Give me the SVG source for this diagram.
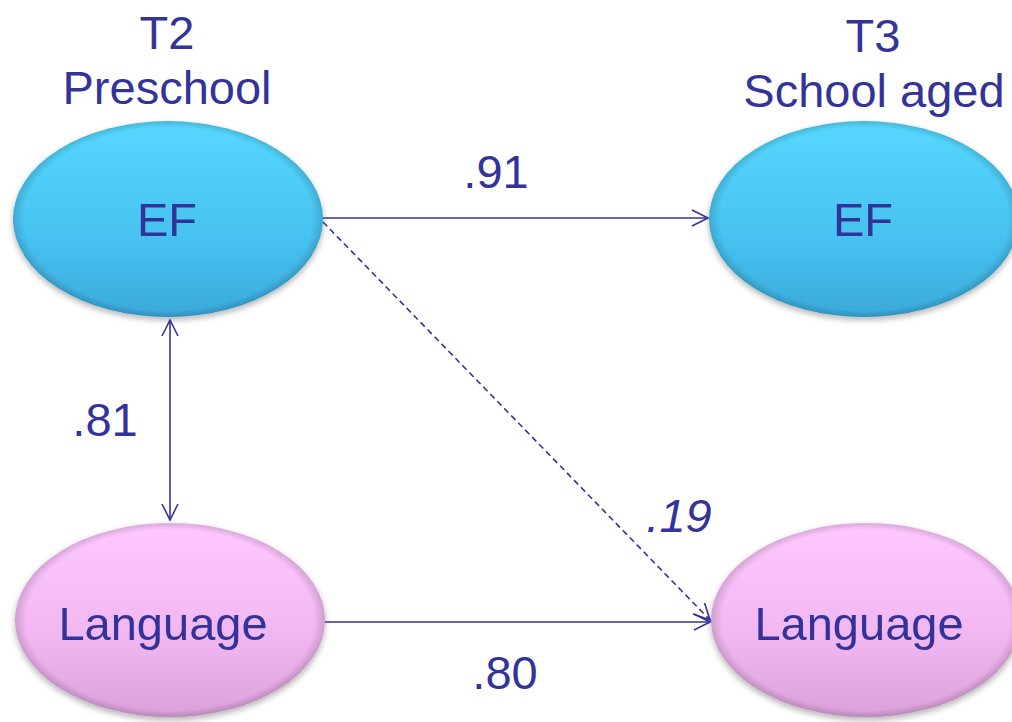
<svg xmlns="http://www.w3.org/2000/svg" width="1012" height="722" viewBox="0 0 1012 722">
  <style>
    .lbl { font-family: "Liberation Sans", Arial, sans-serif; font-size: 47px; fill: #333399; text-anchor: middle; }
    .conn { stroke: #333399; stroke-width: 1.6; fill: none; }
    .dash { stroke-dasharray: 6 4; }
  </style>
  <defs>
    <linearGradient id="blueFill" x1="0" y1="0" x2="0" y2="1">
      <stop offset="0" stop-color="#56D8FF"/>
      <stop offset="0.6" stop-color="#47C2F0"/>
      <stop offset="1" stop-color="#3AA9DA"/>
    </linearGradient>
    <linearGradient id="pinkFill" x1="0" y1="0" x2="0" y2="1">
      <stop offset="0" stop-color="#FFC8FF"/>
      <stop offset="0.6" stop-color="#F0B6F0"/>
      <stop offset="1" stop-color="#D9A0D9"/>
    </linearGradient>
    <radialGradient id="rim" cx="0.5" cy="0.5" r="0.5">
      <stop offset="0.93" stop-color="#000" stop-opacity="0"/>
      <stop offset="1" stop-color="#000" stop-opacity="0.15"/>
    </radialGradient>
    <filter id="shadow" x="-10%" y="-10%" width="120%" height="130%">
      <feGaussianBlur in="SourceAlpha" stdDeviation="3"/>
      <feOffset dy="3"/>
      <feComponentTransfer><feFuncA type="linear" slope="0.3"/></feComponentTransfer>
      <feMerge><feMergeNode/><feMergeNode in="SourceGraphic"/></feMerge>
    </filter>
    <marker id="open" viewBox="0 0 20 20" refX="18" refY="10" markerWidth="20" markerHeight="20" markerUnits="userSpaceOnUse" orient="auto-start-reverse">
      <path d="M2,2 L18,10 L2,18" fill="none" stroke="#333399" stroke-width="1.6"/>
    </marker>
  </defs>

  <!-- column headings -->
  <text class="lbl" x="167" y="49">T2</text>
  <text class="lbl" x="167" y="104">Preschool</text>
  <text class="lbl" x="873" y="52">T3</text>
  <text class="lbl" x="874" y="107">School aged</text>

  <g id="ef-t2" filter="url(#shadow)">
    <ellipse cx="168" cy="219" rx="155" ry="98" fill="url(#blueFill)"/>
    <ellipse cx="168" cy="219" rx="155" ry="98" fill="url(#rim)"/>
    <text class="lbl" x="167" y="236">EF</text>
  </g>
  <g id="ef-t3" filter="url(#shadow)">
    <ellipse cx="864" cy="219" rx="155" ry="98" fill="url(#blueFill)"/>
    <ellipse cx="864" cy="219" rx="155" ry="98" fill="url(#rim)"/>
    <text class="lbl" x="863" y="236">EF</text>
  </g>
  <g id="lang-t2" filter="url(#shadow)">
    <ellipse cx="170" cy="620" rx="155" ry="97" fill="url(#pinkFill)"/>
    <ellipse cx="170" cy="620" rx="155" ry="97" fill="url(#rim)"/>
    <text class="lbl" x="163" y="640">Language</text>
  </g>
  <g id="lang-t3" filter="url(#shadow)">
    <ellipse cx="866" cy="620" rx="155" ry="97" fill="url(#pinkFill)"/>
    <ellipse cx="866" cy="620" rx="155" ry="97" fill="url(#rim)"/>
    <text class="lbl" x="859" y="640">Language</text>
  </g>

  <g id="connectors">
    <line class="conn" x1="323" y1="218" x2="708" y2="218" marker-end="url(#open)"/>
    <line class="conn dash" x1="323" y1="222" x2="710" y2="620" marker-end="url(#open)"/>
    <line class="conn" x1="325" y1="622" x2="710" y2="622" marker-end="url(#open)"/>
    <line class="conn" x1="170" y1="320" x2="170" y2="520" marker-start="url(#open)" marker-end="url(#open)"/>
  </g>

  <!-- path coefficients -->
  <text class="lbl" x="496" y="188">.91</text>
  <text class="lbl" x="105" y="436">.81</text>
  <text class="lbl" x="679" y="532" font-style="italic">.19</text>
  <text class="lbl" x="505" y="689">.80</text>
</svg>
